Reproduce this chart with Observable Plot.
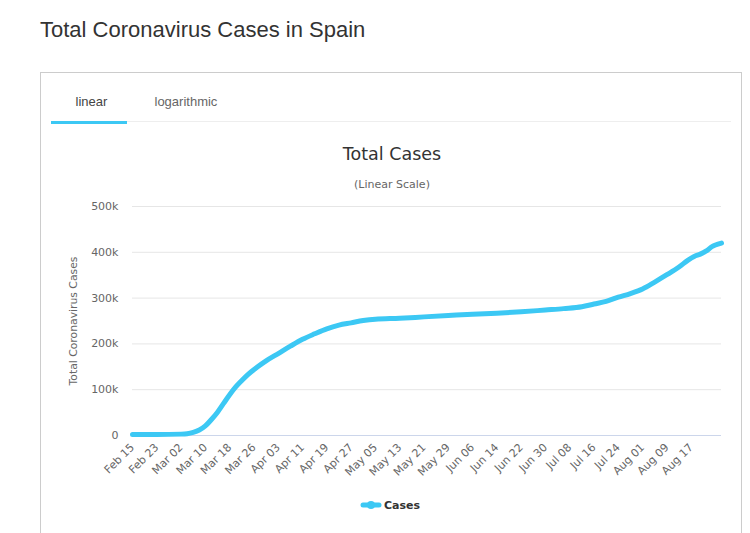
<!DOCTYPE html>
<html><head><meta charset="utf-8">
<script src="https://cdn.jsdelivr.net/npm/d3@7"></script>
<script src="https://cdn.jsdelivr.net/npm/@observablehq/plot@0.6"></script>
<style>
html,body{margin:0;padding:0;background:#fff;}
#wrap{position:relative;width:750px;height:533px;overflow:hidden;}
#wrap svg{position:absolute;left:0;top:0;}
</style></head><body>
<div id="wrap"></div>
<script>
const pageTitle = "Total Coronavirus Cases in Spain";
const chartTitle = "Total Cases";
const chartSubtitle = "(Linear Scale)";
const yAxisTitle = "Total Coronavirus Cases";
const seriesName = "Cases";
const tabLabels = ["linear", "logarithmic"];

const dates = ["2020-02-15","2020-02-23","2020-03-02","2020-03-04","2020-03-06","2020-03-08","2020-03-10","2020-03-12","2020-03-14","2020-03-16","2020-03-18","2020-03-20","2020-03-22","2020-03-24","2020-03-27","2020-03-30","2020-04-03","2020-04-07","2020-04-11","2020-04-15","2020-04-19","2020-04-23","2020-04-27","2020-05-01","2020-05-05","2020-05-13","2020-05-21","2020-05-29","2020-06-06","2020-06-14","2020-06-22","2020-06-30","2020-07-06","2020-07-12","2020-07-16","2020-07-20","2020-07-24","2020-07-28","2020-08-01","2020-08-05","2020-08-09","2020-08-13","2020-08-16","2020-08-18","2020-08-20","2020-08-22","2020-08-24","2020-08-25","2020-08-27"];
const cases = [2000,2000,3000,4000,7000,12000,21000,35000,51000,70000,89000,106000,120000,133000,149000,163000,179000,195000,210000,222000,233000,241000,246000,251000,254000,256000,259000,262000,265000,267000,270000,274000,277000,281000,287000,293000,302000,310000,320000,335000,351000,368000,383000,391000,396000,403000,413000,416000,420000];

const xTickLabels = ["Feb 15","Feb 23","Mar 02","Mar 10","Mar 18","Mar 26","Apr 03","Apr 11","Apr 19","Apr 27","May 05","May 13","May 21","May 29","Jun 06","Jun 14","Jun 22","Jun 30","Jul 08","Jul 16","Jul 24","Aug 01","Aug 09","Aug 17"];
const yTicks = [0,100000,200000,300000,400000,500000];
const yTickLabels = ["0","100k","200k","300k","400k","500k"];

const parseTick = d3.utcParse("%b %d %Y");
const xTicks = xTickLabels.map(s => parseTick(s + " 2020"));
const data = dates.map((d, i) => ({date: new Date(d + "T00:00:00Z"), cases: cases[i]}));

const lineColor = "#3cc8f4";

const chart = Plot.plot({
  width: 750,
  height: 533,
  marginLeft: 132,
  marginRight: 29,
  marginTop: 206,
  marginBottom: 98,
  style: {fontFamily: "'DejaVu Sans', sans-serif", fontSize: "11px", color: "#666", background: "transparent", overflow: "visible"},
  x: {type: "utc", domain: [data[0].date, data[data.length - 1].date], ticks: xTicks,
      tickFormat: d => xTickLabels[xTicks.findIndex(t => +t === +d)],
      tickRotate: -45, tickSize: 0, tickPadding: 10, label: null},
  y: {domain: [0, 500000], ticks: yTicks,
      tickFormat: d => yTickLabels[yTicks.indexOf(d)],
      tickSize: 0, tickPadding: 14, label: null},
  marks: [
    Plot.gridY(yTicks, {stroke: "#e6e6e6", strokeOpacity: 1}),
    Plot.ruleY([0], {stroke: "#ccd6eb", strokeWidth: 1}),
    Plot.line(data, {x: "date", y: "cases", stroke: lineColor, strokeWidth: 5, curve: "monotone-x", strokeLinejoin: "round", strokeLinecap: "round"})
  ]
});
const wrap = document.getElementById("wrap");

// decorations overlay
const svg = d3.create("svg").attr("width", 750).attr("height", 533)
  .style("font-family", "'Liberation Sans', Arial, sans-serif");
svg.append("rect").attr("x", 40.5).attr("y", 72.5).attr("width", 701).attr("height", 500)
  .attr("fill", "none").attr("stroke", "#cccccc");
svg.append("text").attr("x", 40).attr("y", 37).attr("font-size", 22).attr("fill", "#333").text(pageTitle);
svg.append("line").attr("x1", 51).attr("x2", 731).attr("y1", 121.5).attr("y2", 121.5).attr("stroke", "#eeeeee");
svg.append("rect").attr("x", 51).attr("y", 121).attr("width", 76).attr("height", 3).attr("fill", lineColor);
svg.append("text").attr("x", 75.5).attr("y", 106).attr("font-size", 13).attr("fill", "#444").text(tabLabels[0]);
svg.append("text").attr("x", 154.5).attr("y", 106).attr("font-size", 13).attr("fill", "#666").text(tabLabels[1]);
const cg = svg.append("g").style("font-family", "'DejaVu Sans', sans-serif");
cg.append("text").attr("x", 392).attr("y", 160).attr("text-anchor", "middle").attr("font-size", 17.5).attr("fill", "#333").text(chartTitle);
cg.append("text").attr("x", 392).attr("y", 188).attr("text-anchor", "middle").attr("font-size", 11).attr("fill", "#666").text(chartSubtitle);
cg.append("text").attr("transform", "translate(77,321) rotate(-90)").attr("text-anchor", "middle").attr("font-size", 10.8).attr("fill", "#666").text(yAxisTitle);
cg.append("line").attr("x1", 363).attr("x2", 379).attr("y1", 505).attr("y2", 505).attr("stroke", lineColor).attr("stroke-width", 5).attr("stroke-linecap", "round");
cg.append("circle").attr("cx", 371).attr("cy", 505).attr("r", 4).attr("fill", lineColor);
cg.append("text").attr("x", 384).attr("y", 509).attr("font-size", 11).attr("font-weight", "bold").attr("fill", "#333").text(seriesName);

wrap.append(svg.node());
wrap.append(chart);
</script>
</body></html>
